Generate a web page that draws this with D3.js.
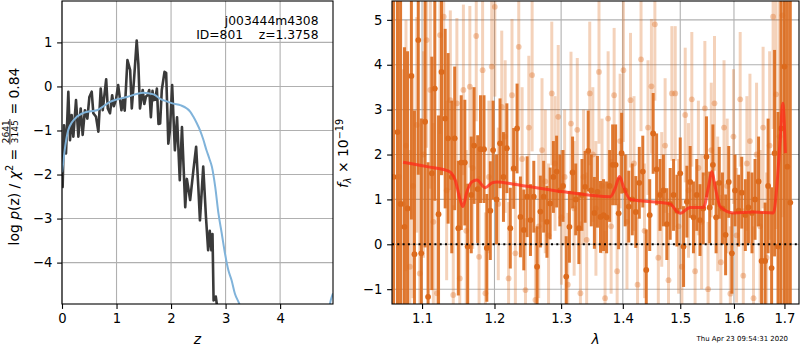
<!DOCTYPE html>
<html><head><meta charset="utf-8">
<script src="https://cdn.jsdelivr.net/npm/d3@7"></script>
<style>
body{margin:0;background:#fff;}
text{font-family:"DejaVu Sans",sans-serif;}
</style></head><body>
<svg id="c" width="800" height="350" xmlns="http://www.w3.org/2000/svg"></svg>
<script>
// ---------------- data ----------------
// left panel: log p(z) (black) and prior/comparison curve (blue)
const zBlack = [0.0,0.012,0.037,0.073,0.116,0.147,0.177,0.208,0.257,0.30,0.343,0.379,0.42,0.465,0.502,0.545,0.575,0.624,0.667,0.71,0.747,0.81,0.84,0.88,0.92,0.95,0.99,1.03,1.09,1.12,1.15,1.17,1.2,1.25,1.28,1.32,1.37,1.40,1.43,1.48,1.51,1.54,1.57,1.6,1.63,1.66,1.68,1.71,1.74,1.77,1.80,1.83,1.88,1.91,1.95,1.98,2.02,2.07,2.11,2.16,2.20,2.26,2.29,2.35,2.41,2.46,2.50,2.53,2.59,2.64,2.68,2.71,2.74,2.76,2.78,2.82,2.84,2.87];
const logpBlack = [-2.3,-2.28,-0.88,-1.52,-0.12,-1.22,-0.65,-1.14,-0.31,-1.14,-0.5,-1.1,-0.54,-0.73,-0.24,-0.12,-0.61,-0.69,-1.03,-0.05,-0.54,0.16,-0.5,-0.61,-0.2,-0.45,-0.3,0.03,-0.54,-0.3,-0.55,-0.1,0.6,0.37,-0.5,0.14,1.04,0.52,-0.5,-0.08,-0.4,-0.23,-0.2,-0.08,-0.7,-0.1,-0.31,-0.3,-0.05,-0.85,-0.84,-0.08,0.33,0.31,-1.3,-0.99,0.03,-1.45,-0.7,-2.13,-0.92,-2.74,-2.1,-2.58,-1.9,-1.37,-2.28,-3.04,-1.82,-2.96,-3.72,-3.28,-3.72,-3.35,-4.86,-4.77,-4.95,-6.0];
const zBlue = [0,0.02,0.06,0.115,0.18,0.27,0.36,0.45,0.64,0.88,1.19,1.49,1.68,1.80,1.92,2.04,2.18,2.29,2.35,2.41,2.47,2.53,2.59,2.65,2.70,2.75,2.81,2.87,2.93,2.99,3.05,3.11,3.17,3.25,3.35,4.85,4.93,4.97];
const logpBlue = [-1.95,-1.75,-1.35,-0.99,-0.82,-0.69,-0.62,-0.58,-0.54,-0.35,-0.24,-0.145,-0.18,-0.28,-0.34,-0.39,-0.43,-0.5,-0.57,-0.69,-0.83,-0.99,-1.2,-1.45,-1.63,-1.83,-2.28,-2.89,-3.34,-3.8,-4.17,-4.4,-4.7,-4.93,-5.3,-5.3,-4.85,-4.7];
const zTicks = [0,1,2,3,4];
const pTicks = [-4,-3,-2,-1,0,1];

// right panel: spectrum, dark series
const darkWave = [1.063,1.068,1.072,1.077,1.081,1.086,1.090,1.095,1.099,1.104,1.108,1.113,1.117,1.122,1.126,1.131,1.135,1.140,1.144,1.149,1.153,1.158,1.162,1.167,1.171,1.176,1.180,1.185,1.189,1.194,1.198,
 1.203,1.208,1.213,1.218,1.223,1.228,1.233,1.238,1.243,1.248,1.253,1.258,1.263,1.268,1.273,1.278,1.283,1.288,1.293,1.298,1.303,1.308,1.313,1.318,1.323,1.328,1.333,1.338,1.343,1.348,1.353,1.358,1.363,1.368,1.373,1.378,1.383,1.388,1.393,1.398,
 1.404,1.410,1.416,1.422,1.428,1.434,1.440,1.446,1.452,1.458,1.464,1.470,1.476,1.482,1.488,1.494,1.500,1.506,1.512,1.518,1.524,1.530,1.536,1.542,1.548,1.554,1.560,1.566,1.572,1.578,1.584,1.590,1.596,
 1.602,1.609,1.615,1.622,1.628,1.635,1.641,1.648,1.654,1.661,1.667,1.674,1.680,1.687,1.693,1.700,1.706,1.712];
const darkFlux = [1.5,2.5,0.9,0.39,0.8,3.75,-0.22,4.55,-0.2,2.73,-1.17,1.58,3.47,0.67,3.84,2.8,2.36,1.5,2.36,0.36,1.82,1.82,-0.05,1.1,2.2,1.23,2.12,2.12,-0.08,0.75,2.1,
 1.0,2.25,1.5,2.14,0.36,1.69,2.58,0.61,0.32,1.06,0.54,1.06,-0.5,0.73,1.06,0.5,0.91,1.5,1.62,1.2,1.3,-0.72,0.39,1.6,1.0,0.36,1.1,1.28,2.08,1.2,0.7,1.17,0.61,0.65,0.6,1.3,1.77,1.77,0.69,2.03,
 1.2,0.84,1.0,0.72,1.37,1.62,-0.57,0.65,2.47,1.67,1.1,1.2,0.45,0.9,1.1,0.75,1.58,-0.05,0.95,1.39,0.6,1.1,0.54,0.8,1.95,0.82,1.77,0.6,1.37,0.8,0.21,1.39,-0.2,
 1.2,0.75,1.15,0.65,0.82,0.7,1.0,1.4,-0.37,-0.37,1.3,-0.53,2.03,-0.05,2.58,3.96,1.73,0.93];
const darkErr = [7,6,5,4,3.5,3.2,3.2,3.0,3.0,2.8,3.0,2.6,2.5,2.2,2.3,2.0,1.9,1.7,1.6,1.5,1.5,1.4,1.4,1.3,1.3,1.2,1.2,1.2,1.2,1.1,1.1,
 1.0,1.0,1.0,1.0,0.9,0.9,1.0,0.9,0.9,0.9,0.8,0.8,0.9,0.8,0.8,0.8,0.8,0.8,0.8,0.8,0.8,0.9,0.8,0.8,0.8,0.8,0.8,0.8,0.9,0.8,0.8,0.8,0.8,0.8,0.8,0.8,0.9,0.9,0.8,0.9,
 0.8,0.8,0.8,0.8,0.8,0.8,0.9,0.8,0.9,0.8,0.8,0.8,0.8,0.8,0.8,0.8,0.8,0.9,0.8,0.8,0.8,0.8,0.8,0.8,0.9,0.8,0.9,0.8,0.8,0.8,0.9,0.8,0.9,
 0.8,0.8,0.8,0.8,0.8,0.9,0.9,1.0,1.1,1.3,1.5,1.8,2.3,3.0,4.0,5.5,6.5,7];
// light series
const lightWave = [1.070,1.075,1.079,1.084,1.088,1.093,1.097,1.102,1.106,1.111,1.115,1.120,1.124,1.129,1.133,1.138,1.142,1.147,1.151,1.156,1.160,1.165,1.169,1.174,1.178,1.183,1.187,1.192,1.196,1.2005,
 1.2055,1.2105,1.2155,1.2205,1.2255,1.2305,1.2355,1.2405,1.2455,1.2505,1.2555,1.2605,1.2655,1.2705,1.2755,1.2805,1.2855,1.2905,1.2955,1.3005,1.3055,1.3105,1.3155,1.3205,1.3255,1.3305,1.3355,1.3405,1.3455,1.3505,1.3555,1.3605,1.3655,1.3705,1.3755,1.3805,1.3855,1.3905,1.3955,1.401,
 1.407,1.413,1.419,1.425,1.431,1.437,1.443,1.449,1.455,1.461,1.467,1.473,1.479,1.485,1.491,1.497,1.503,1.509,1.515,1.521,1.527,1.533,1.539,1.545,1.551,1.557,1.563,1.569,1.575,1.581,1.587,1.593,1.599,
 1.605,1.612,1.618,1.625,1.631,1.638,1.644,1.651,1.657,1.664,1.670,1.677,1.683,1.690,1.696];
const lightFlux = [1.5,0.9,2.2,-0.5,1.3,2.66,-0.65,2.0,4.55,3.44,0.5,-1.09,4.66,5.07,1.2,3.21,-1.13,3.14,-0.76,3.44,0.3,3.51,1.7,4.64,-0.28,3.88,-1.09,1.5,3.96,5.29,
 0.9,3.06,2.4,-0.76,3.32,-0.2,4.4,1.9,-1.02,2.6,3.77,-1.24,0.4,2.1,1.4,0.2,3.36,1.8,2.84,0.6,1.5,-0.9,2.69,0.8,2.55,-1.09,1.5,0.1,3.36,2.0,0.8,3.84,1.3,-1.2,2.8,0.4,3.32,-0.6,2.3,3.88,
 0.5,3.21,1.8,-0.9,4.12,0.3,2.6,3.52,4.9,-0.3,1.0,2.2,-0.8,3.36,3.36,0.4,-0.5,2.88,1.2,3.23,-0.6,1.7,0.5,3.03,-1.0,2.1,3.14,0.9,-0.4,2.6,1.3,-1.1,2.4,
 0.2,3.23,-0.7,1.8,2.3,-1.2,2.0,0.4,2.6,-0.3,2.2,5.07,3.34,2.4,5.1];
const lightErr = [3.5,3.0,2.8,2.6,2.5,2.4,2.4,2.3,2.4,2.2,2.2,2.1,2.2,2.2,2.0,2.0,2.0,1.9,1.9,1.9,1.8,1.8,1.8,1.9,1.8,1.8,1.8,1.7,1.8,2.0,
 1.7,1.7,1.7,1.7,1.7,1.6,1.8,1.6,1.6,1.6,1.7,1.6,1.6,1.6,1.6,1.6,1.6,1.5,1.6,1.5,1.5,1.6,1.6,1.5,1.6,1.6,1.5,1.5,1.6,1.5,1.5,1.6,1.5,1.5,1.5,1.5,1.5,1.5,1.5,1.6,
 1.5,1.5,1.5,1.5,1.6,1.5,1.5,1.5,1.7,1.5,1.5,1.5,1.5,1.5,1.5,1.5,1.5,1.5,1.5,1.5,1.5,1.5,1.5,1.5,1.5,1.5,1.5,1.5,1.5,1.5,1.5,1.5,1.5,
 1.5,1.5,1.5,1.5,1.5,1.6,1.6,1.7,1.8,1.9,2.1,2.5,3.0,3.8,4.5];
// best-fit model (red)
const modelWave = [1.0752,1.1066,1.1356,1.1447,1.1516,1.1553,1.1609,1.1679,1.1749,1.1867,1.1963,1.2035,1.2279,1.3038,1.3791,1.3873,1.3945,1.4012,1.4125,1.4296,1.4820,1.4939,1.4999,1.5180,1.5424,1.5517,1.5580,1.5643,1.5737,1.5991,1.6379,1.6777,1.6845,1.6912,1.6967,1.7020];
const modelFlux = [1.83,1.73,1.63,1.43,0.99,0.84,1.17,1.39,1.43,1.26,1.37,1.39,1.34,1.17,1.06,1.25,1.51,1.28,1.0,0.97,0.9,0.73,0.69,0.82,0.82,1.28,1.62,1.28,0.84,0.7,0.72,0.7,1.28,2.32,3.14,2.03];
const lamTicks = [1.1,1.2,1.3,1.4,1.5,1.6,1.7];
const fTicks = [-1,0,1,2,3,4,5];

// ---------------- drawing ----------------
const svg = d3.select("#c");
const TICKFS = 13.2, LABFS = 13.9;
const GRID = "#b0b0b0";
const ORANGE = "#dc6a1c";

function panel(P, xs, ys, xt, yt) {
  const g = svg.append("g");
  g.append("g").selectAll("line").data(xt).join("line")
    .attr("x1", d => xs(d)).attr("x2", d => xs(d)).attr("y1", P.y0).attr("y2", P.y1)
    .attr("stroke", GRID).attr("stroke-width", 1.1);
  g.append("g").selectAll("line").data(yt).join("line")
    .attr("y1", d => ys(d)).attr("y2", d => ys(d)).attr("x1", P.x0).attr("x2", P.x1)
    .attr("stroke", GRID).attr("stroke-width", 1.1);
  return g;
}
function axes(P, xs, ys, xt, yt, xfmt) {
  const ax = svg.append("g").attr("transform", `translate(0,${P.y1})`)
    .call(d3.axisBottom(xs).tickValues(xt).tickFormat(xfmt).tickSize(4.9).tickPadding(4.4).tickSizeOuter(0));
  const ay = svg.append("g").attr("transform", `translate(${P.x0},0)`)
    .call(d3.axisLeft(ys).tickValues(yt).tickFormat(d3.format("d")).tickSize(4.9).tickPadding(4.8).tickSizeOuter(0));
  [ax, ay].forEach(a => {
    a.select(".domain").remove();
    a.selectAll("line").attr("stroke", "#000").attr("stroke-width", 1.1);
    a.selectAll("text").attr("font-size", TICKFS).attr("font-family", "DejaVu Sans").attr("fill", "#000");
  });
  svg.append("rect").attr("x", P.x0).attr("y", P.y0).attr("width", P.x1 - P.x0).attr("height", P.y1 - P.y0)
    .attr("fill", "none").attr("stroke", "#000").attr("stroke-width", 1.1);
}
function clip(id, P) {
  svg.append("clipPath").attr("id", id).append("rect")
    .attr("x", P.x0).attr("y", P.y0).attr("width", P.x1 - P.x0).attr("height", P.y1 - P.y0);
}

// ---- left panel ----
const L = {x0: 62, x1: 333, y0: 1, y1: 304};
const xz = d3.scaleLinear().domain([0, 4.97]).range([L.x0, L.x1]);
const yp = d3.scaleLinear().domain([-4.94, 1.94]).range([L.y1, L.y0]);
clip("cl", L);
panel(L, xz, yp, zTicks, pTicks);
const gl = svg.append("g").attr("clip-path", "url(#cl)");
const lineL = d3.line().x(d => xz(d[0])).y(d => yp(d[1]));
gl.append("path").datum(d3.zip(zBlack, logpBlack)).attr("d", lineL)
  .attr("fill", "none").attr("stroke", "#3a3a3a").attr("stroke-width", 2.6).attr("stroke-linejoin", "round");
gl.append("path").datum(d3.zip(zBlue, logpBlue)).attr("d", lineL.curve(d3.curveMonotoneX))
  .attr("fill", "none").attr("stroke", "#80b3da").attr("stroke-width", 2);
axes(L, xz, yp, zTicks, pTicks, d3.format("d"));

svg.append("text").attr("x", 318.5).attr("y", 24.5).attr("text-anchor", "end")
  .attr("font-size", 12.3).text("j003444m4308");
svg.append("text").attr("x", 318.5).attr("y", 38.5).attr("text-anchor", "end")
  .attr("font-size", 12.3).style("white-space", "pre").text("ID=801    z=1.3758");

// ---- right panel ----
const R = {x0: 392, x1: 799, y0: 1, y1: 304};
const xl = d3.scaleLog().domain([1.061, 1.730]).range([R.x0, R.x1]);
const yf = d3.scaleLinear().domain([-1.33, 5.42]).range([R.y1, R.y0]);
clip("cr", R);
panel(R, xl, yf, lamTicks, fTicks);
const gr = svg.append("g").attr("clip-path", "url(#cr)");
const light = d3.zip(lightWave, lightFlux, lightErr);
const dark = d3.zip(darkWave, darkFlux, darkErr);
gr.append("g").selectAll("line").data(light).join("line")
  .attr("x1", d => xl(d[0])).attr("x2", d => xl(d[0]))
  .attr("y1", d => yf(d[1] - d[2])).attr("y2", d => yf(d[1] + d[2]))
  .attr("stroke", ORANGE).attr("stroke-opacity", 0.3).attr("stroke-width", 3);
gr.append("g").selectAll("circle").data(light).join("circle")
  .attr("cx", d => xl(d[0])).attr("cy", d => yf(d[1])).attr("r", 2.9)
  .attr("fill", ORANGE).attr("fill-opacity", 0.35);
gr.append("g").selectAll("line").data(dark).join("line")
  .attr("x1", d => xl(d[0])).attr("x2", d => xl(d[0]))
  .attr("y1", d => yf(d[1] - d[2])).attr("y2", d => yf(d[1] + d[2]))
  .attr("stroke", ORANGE).attr("stroke-opacity", 0.9).attr("stroke-width", 3);
gr.append("g").selectAll("circle").data(dark).join("circle")
  .attr("cx", d => xl(d[0])).attr("cy", d => yf(d[1])).attr("r", 2.9)
  .attr("fill", ORANGE);
gr.append("path").datum(d3.zip(modelWave, modelFlux))
  .attr("d", d3.line().x(d => xl(d[0])).y(d => yf(d[1])).curve(d3.curveMonotoneX))
  .attr("fill", "none").attr("stroke", "#ff2a1a").attr("stroke-opacity", 0.75).attr("stroke-width", 3);
gr.append("line").attr("x1", R.x0).attr("x2", R.x1).attr("y1", yf(0)).attr("y2", yf(0))
  .attr("stroke", "#000").attr("stroke-width", 2).attr("stroke-dasharray", "2,3.3");
axes(R, xl, yf, lamTicks, fTicks, d3.format(".1f"));

// ---- axis labels ----
svg.append("text").attr("x", (L.x0 + L.x1) / 2).attr("y", 344).attr("text-anchor", "middle")
  .attr("font-size", LABFS).attr("font-style", "italic").text("z");
svg.append("text").attr("x", (R.x0 + R.x1) / 2).attr("y", 344).attr("text-anchor", "middle")
  .attr("font-size", LABFS).attr("font-style", "italic").text("λ");

function seq(g, pieces) {
  let x = 0;
  pieces.forEach(p => {
    if (p.frac) {
      const fs = p.fs;
      const n = g.append("text").attr("font-size", fs).attr("text-anchor", "middle").text(p.frac[0]);
      const d = g.append("text").attr("font-size", fs).attr("text-anchor", "middle").text(p.frac[1]);
      const w = Math.max(n.node().getComputedTextLength(), d.node().getComputedTextLength()) + 2;
      n.attr("x", x + w / 2).attr("y", p.ny);
      d.attr("x", x + w / 2).attr("y", p.dy);
      g.append("line").attr("x1", x).attr("x2", x + w).attr("y1", p.by).attr("y2", p.by)
        .attr("stroke", "#000").attr("stroke-width", 0.9);
      x += w;
    } else {
      const t = g.append("text").attr("x", x).attr("y", p.y || 0).attr("font-size", p.fs)
        .style("white-space", "pre").text(p.t);
      if (p.it) t.attr("font-style", "italic");
      x += t.node().getComputedTextLength();
    }
  });
  return x;
}
const gyl = svg.append("g");
const inner = gyl.append("g");
const wl = seq(inner, [
  {t: "log ", fs: LABFS}, {t: "p", fs: LABFS, it: true}, {t: "(z) / ", fs: LABFS},
  {t: "χ", fs: LABFS, it: true}, {t: "2", fs: 9.7, y: -5.5}, {t: " = ", fs: LABFS},
  {frac: ["2641", "3145"], fs: 9.2, ny: -9.8, dy: -0.8, by: -8.6},
  {t: " = 0.84", fs: LABFS}
]);
inner.attr("transform", `translate(${-wl / 2},0)`);
gyl.attr("transform", "translate(18.5,156.5) rotate(-90)");

const gyr = svg.append("g");
const inner2 = gyr.append("g");
const wr = seq(inner2, [
  {t: "f", fs: LABFS, it: true}, {t: "λ", fs: 9.7, it: true, y: 2.5},
  {t: " × 10", fs: LABFS}, {t: "−19", fs: 9.7, y: -5.5}
]);
inner2.attr("transform", `translate(${-wr / 2},0)`);
gyr.attr("transform", "translate(348,153.5) rotate(-90)");

svg.append("text").attr("x", 788).attr("y", 341).attr("text-anchor", "end")
  .attr("font-size", 6.95).text("Thu Apr 23 09:54:31 2020");
</script>
</body></html>
